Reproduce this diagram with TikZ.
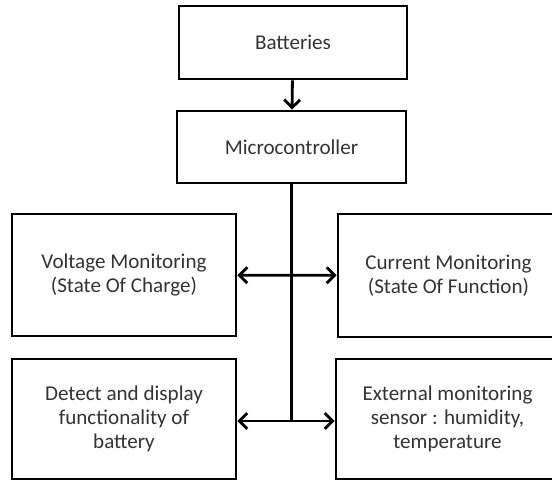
\documentclass[tikz,border=0pt]{standalone}
\usepackage{fontspec}
\setmainfont{Carlito}
\usetikzlibrary{arrows.meta}
\tikzset{
  bloc/.style={draw,line width=1.6pt,align=center,text=black!80,font=\fontsize{12}{13.8}\selectfont},
  fleche/.style={line width=1.6pt,-{Straight Barb[length=4.5pt,width=9pt]}}
}
\begin{document}
\begin{tikzpicture}[x=0.02cm,y=-0.02cm] % une unité = un pixel de l'image

\useasboundingbox (0,0) rectangle (552,481);

\node[bloc,minimum width=228*0.02cm,minimum height=73*0.02cm] (B) at (293,42.5) {Batteries};
\node[bloc,minimum width=229*0.02cm,minimum height=72*0.02cm] (M) at (291.5,147) {Microcontroller};
\node[bloc,minimum width=224*0.02cm,minimum height=122*0.02cm] (V) at (124,275) {Voltage Monitoring\\(State Of Charge)};
\node[bloc,minimum width=221*0.02cm,minimum height=123*0.02cm] (C) at (448.5,275.5) {Current Monitoring\\(State Of Function)};
\node[bloc,minimum width=224*0.02cm,minimum height=120*0.02cm] (D) at (124,419) {Detect and display\\functionality of\\battery};
\node[bloc,minimum width=223*0.02cm,minimum height=120*0.02cm] (E) at (447.5,419) {External monitoring\\sensor : humidity,\\temperature};
\coordinate (bas) at (291.5,421);

\draw[fleche] (B) -- (M);
\draw[line width=1.6pt] (M.south) -- (bas);
\draw[fleche,{Straight Barb[length=4.5pt,width=9pt]}-{Straight Barb[length=4.5pt,width=9pt]}] (V) -- (C);
\draw[fleche,{Straight Barb[length=4.5pt,width=9pt]}-{Straight Barb[length=4.5pt,width=9pt]}] (D.east |- bas) -- (E.west |- bas);
\end{tikzpicture}
\end{document}
